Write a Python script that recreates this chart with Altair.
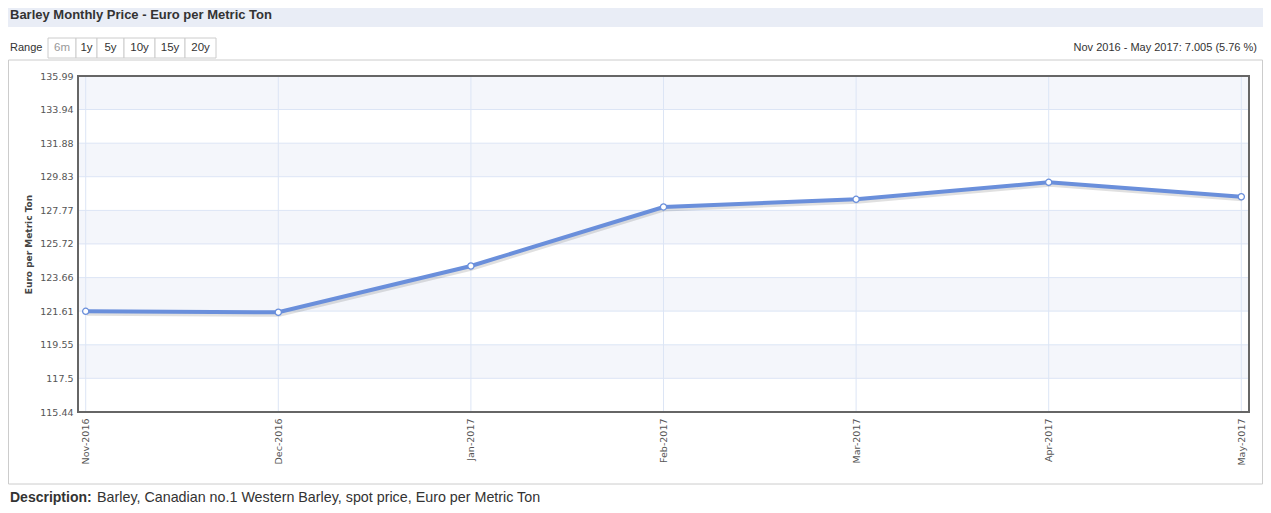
import altair as alt
import pandas as pd

# ---------------- data ----------------
months = ["Nov-2016", "Dec-2016", "Jan-2017", "Feb-2017", "Mar-2017", "Apr-2017", "May-2017"]
prices = [121.60, 121.54, 124.37, 127.98, 128.45, 129.49, 128.605]
y_ticks = [115.44, 117.5, 119.55, 121.61, 123.66, 125.72, 127.77, 129.83, 131.88, 133.94, 135.99]
range_buttons = ["6m", "1y", "5y", "10y", "15y", "20y"]

title_text = "Barley Monthly Price - Euro per Metric Ton"
change_text = "Nov 2016 - May 2017: 7.005 (5.76 %)"
desc_label = "Description:"
desc_text = "Barley, Canadian no.1 Western Barley, spot price, Euro per Metric Ton"
y_title = "Euro per Metric Ton"

# ---------------- layout ----------------
W, H = 1171, 336          # plot area
PX, PY = 78, 76           # page position of plot area
def px(x): return x - PX
def py(y): return y - PY

LINE = "#6a8fdb"
GRID = "#dce5f5"
BAND = "#f4f6fb"
FONT = "Liberation Sans"
AXF = "DejaVu Sans"

df = pd.DataFrame({"month": months, "price": prices})
bands = pd.DataFrame({"lo": y_ticks[:-1], "hi": y_ticks[1:]}).iloc[1::2]
ticks_df = pd.DataFrame({"v": y_ticks})
one = alt.Data(values=[{"k": 1}])

yscale = alt.Scale(domain=[y_ticks[0], y_ticks[-1]], nice=False, zero=False)
xscale = alt.Scale(type="point", padding=0.04)

xaxis = alt.Axis(
    title=None, labelAngle=270, labelAlign="right", labelBaseline="middle",
    labelPadding=6, ticks=False, domain=False, grid=False,
    labelFont=AXF, labelFontSize=9.5, labelColor="#555555")
yaxis = alt.Axis(
    values=y_ticks, format=".2~f", ticks=False, domain=False, grid=False,
    labelPadding=5, labelFont=AXF, labelFontSize=9.5, labelColor="#555555",
    title=y_title, titleFont=AXF, titleFontSize=9, titleFontWeight="bold",
    titleColor="#444444", titleAngle=270, titleX=-50, titleY=H / 2,
    titleAlign="center", titleBaseline="middle")

def X(field="month"):
    return alt.X(f"{field}:O", sort=months, scale=xscale, axis=xaxis)

def Y(field="price"):
    return alt.Y(f"{field}:Q", scale=yscale, axis=yaxis)

def text(t, x, y, size=12, weight="normal", color="#333", align="left", font=FONT):
    return alt.Chart(one).mark_text(
        text=t, align=align, baseline="middle", font=font, fontSize=size,
        fontWeight=weight, color=color
    ).encode(x=alt.value(px(x)), y=alt.value(py(y)))

def box(x0, x1, y0, y1, **kw):
    return alt.Chart(one).mark_rect(**kw).encode(
        x=alt.value(px(x0)), x2=alt.value(px(x1)),
        y=alt.value(py(y0)), y2=alt.value(py(y1)))

# header & frame
header = box(8, 1263, 8, 27, color="#e9edf6")
frame = box(8.5, 1262.5, 60, 484, fillOpacity=0, stroke="#cccccc", strokeWidth=1)

# range buttons
edges = [48, 76, 97, 124, 155, 185, 216]
btn_df = pd.DataFrame({
    "label": range_buttons,
    "x0": [px(e) for e in edges[:-1]],
    "x1": [px(e) for e in edges[1:]],
    "xc": [px((a + b) / 2) for a, b in zip(edges[:-1], edges[1:])],
    "col": ["#999999"] + ["#333333"] * (len(range_buttons) - 1),
})
btn_rect = alt.Chart(btn_df).mark_rect(fill="white", stroke="#cccccc", strokeWidth=1).encode(
    x=alt.X("x0:Q", scale=None), x2="x1:Q", y=alt.value(py(38)), y2=alt.value(py(58)))
btn_text = alt.Chart(btn_df).mark_text(font=FONT, fontSize=11.5, baseline="middle", align="center").encode(
    x=alt.X("xc:Q", scale=None), y=alt.value(py(47.5)), text="label:N",
    color=alt.Color("col:N", scale=None))

# plot background bands & grid
band_layer = alt.Chart(bands).mark_rect(color=BAND).encode(
    y=Y("lo"), y2="hi:Q", x=alt.value(0), x2=alt.value(W))
hgrid = alt.Chart(ticks_df).mark_rule(color=GRID, strokeWidth=1).encode(
    y=Y("v"), x=alt.value(0), x2=alt.value(W))
vgrid = alt.Chart(df).mark_rule(color=GRID, strokeWidth=1).encode(
    x=X(), y=alt.value(0), y2=alt.value(H))

shadow = alt.Chart(df).mark_line(color="black", opacity=0.12, strokeWidth=5,
                                 xOffset=1, yOffset=2).encode(x=X(), y=Y())
line = alt.Chart(df).mark_line(color=LINE, strokeWidth=4).encode(x=X(), y=Y())
points = alt.Chart(df).mark_circle(fill="white", stroke=LINE, strokeWidth=1.3,
                                   size=38, opacity=1).encode(x=X(), y=Y())

border = alt.Chart(one).mark_rect(fillOpacity=0, stroke="#666666", strokeWidth=2).encode(
    x=alt.value(0), x2=alt.value(W), y=alt.value(0), y2=alt.value(H))

texts = [
    text(title_text, 10, 15, size=13, weight="bold", color="#333333"),
    text("Range", 10, 47.5, size=11, color="#333333"),
    text(change_text, 1257, 47.5, size=11, color="#333333", align="right"),
    text(desc_label, 10, 498, size=14, weight="bold", color="#333333"),
    text(desc_text, 97, 498, size=14.3, color="#333333"),
]

chart = alt.layer(
    header, frame, btn_rect, btn_text,
    band_layer, hgrid, vgrid, shadow, line, points, border, *texts
).properties(
    width=W, height=H,
    autosize=alt.AutoSizeParams(type="none"),
    padding={"left": 70, "top": 68, "right": 14, "bottom": 93},
    background="white",
).configure_view(strokeWidth=0)

chart.save("out.html", embed_options={"renderer": "svg", "actions": False})
